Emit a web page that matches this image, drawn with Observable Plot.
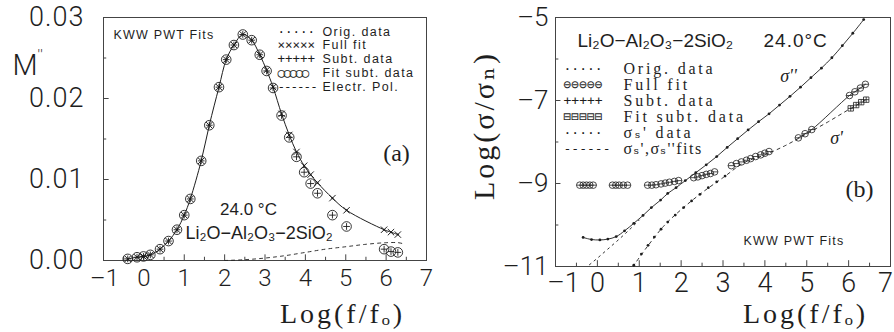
<!DOCTYPE html>
<html>
<head>
<meta charset="utf-8">
<script src="https://cdn.jsdelivr.net/npm/d3@7"></script>
<script src="https://cdn.jsdelivr.net/npm/@observablehq/plot@0.6"></script>
<style>
  body { margin: 0; background: #fff; }
  #wrap { position: relative; width: 894px; height: 332px; overflow: hidden; background: #fff; }
  #pa { position: absolute; left: 0; top: 0; }
  #pb { position: absolute; left: 450px; top: 0; }
</style>
</head>
<body>
<div id="wrap"><div id="pa"></div><div id="pb"></div></div>
<script>
// ---------- Panel (a): M'' spectrum, KWW PWT fits ----------
const aLogF = [-0.40, -0.17, -0.01, 0.16, 0.40, 0.61, 0.82, 1.00, 1.15, 1.42, 1.62, 1.86, 2.04, 2.23, 2.45, 2.67, 2.87, 3.04, 3.20, 3.41, 3.60, 3.78, 3.97, 4.13, 4.30, 4.67, 5.02, 5.95, 6.12, 6.29];
const aFull = [0.0002, 0.0004, 0.0005, 0.0007, 0.0014, 0.0024, 0.0038, 0.0056, 0.0076, 0.0123, 0.0167, 0.0214, 0.0248, 0.0266, 0.0279, 0.0272, 0.0254, 0.0235, 0.0214, 0.0181, 0.0155, 0.0134, 0.0117, 0.0106, 0.0096, 0.0077, 0.0062, 0.0038, 0.0035, 0.0032];
const aSub  = [0.0002, 0.0004, 0.0005, 0.0007, 0.0014, 0.0024, 0.0038, 0.0056, 0.0076, 0.0123, 0.0167, 0.0214, 0.0248, 0.0266, 0.0279, 0.0272, 0.0254, 0.0234, 0.0213, 0.0179, 0.0152, 0.0128, 0.0109, 0.0095, 0.0083, 0.0056, 0.0042, 0.0014, 0.0011, 0.0010];
const aPolLogF = [2.0, 2.5, 3.0, 3.5, 4.0, 4.5, 5.0, 5.5, 6.0, 6.3, 6.4];
const aPol     = [0.0000, 0.0001, 0.0003, 0.0006, 0.0010, 0.0014, 0.0017, 0.0020, 0.0022, 0.0022, 0.0021];
const aYTicks = [0, 0.01, 0.02, 0.03];
const aYMinor = [0.005, 0.015, 0.025];
const aLegendSymbols = ["·····", "×××××", "+++++", "○○○○○", "------"];
const aLegendLabels  = ["Orig. data", "Full fit", "Subt. data", "Fit subt. data", "Electr. Pol."];

// ---------- Panel (b): conductivity spectra ----------
const bSig2LogF = [-0.34, -0.14, 0.06, 0.25, 0.45, 0.65, 0.87, 1.09, 1.29, 1.51, 1.68, 1.88, 2.10, 2.35, 2.60, 2.85, 3.10, 3.35, 3.60, 3.85, 4.10, 4.35, 4.60, 4.85, 5.10, 5.35, 5.60, 5.85, 6.10, 6.36];
const bSig2     = [-10.30, -10.35, -10.36, -10.34, -10.28, -10.14, -9.96, -9.77, -9.58, -9.40, -9.24, -9.10, -8.93, -8.74, -8.55, -8.35, -8.13, -7.92, -7.71, -7.51, -7.32, -7.11, -6.90, -6.68, -6.45, -6.22, -5.97, -5.68, -5.38, -5.05];
const bSig2FitLogF = [-0.30, 0.00, 0.25, 0.50, 0.75, 1.00];
const bSig2Fit     = [-11.05, -10.80, -10.58, -10.36, -10.13, -9.88];
const bSig1LogF = [-0.42, -0.34, -0.26, -0.18, -0.10, 0.36, 0.44, 0.52, 0.62, 0.72, 1.20, 1.30, 1.40, 1.52, 1.62, 1.72, 1.84, 1.94, 2.30, 2.40, 2.50, 2.60, 2.70, 2.80, 3.20, 3.32, 3.44, 3.56, 3.66, 3.78, 3.90, 4.00, 4.10, 4.80, 4.96, 5.12, 6.02, 6.15, 6.28, 6.40];
const bSig1     = [-9.04, -9.04, -9.04, -9.04, -9.04, -9.04, -9.04, -9.04, -9.04, -9.04, -9.04, -9.04, -9.03, -9.01, -8.99, -8.97, -8.95, -8.93, -8.86, -8.84, -8.81, -8.78, -8.76, -8.72, -8.57, -8.52, -8.48, -8.44, -8.40, -8.35, -8.31, -8.27, -8.23, -7.90, -7.80, -7.70, -6.88, -6.79, -6.70, -6.61];
const bSubLogF = [0.87, 1.05, 1.21, 1.36, 1.52, 1.68, 1.86, 2.06, 2.25, 2.45, 2.65, 2.85, 3.05];
const bSub     = [-10.97, -10.70, -10.49, -10.29, -10.10, -9.93, -9.76, -9.58, -9.42, -9.26, -9.10, -8.96, -8.82];
const bSubFitLogF = [0.85, 1.20, 1.60, 2.00, 2.50, 3.00, 3.50, 4.00, 4.50, 5.00, 5.50, 6.00, 6.42];
const bSubFit     = [-11.00, -10.51, -10.01, -9.63, -9.22, -8.86, -8.50, -8.31, -8.08, -7.80, -7.52, -7.22, -6.98];
const bSubHiLogF = [6.05, 6.18, 6.30, 6.42];
const bSubHi     = [-7.19, -7.11, -7.04, -6.98];
const bYTicks = [-11, -9, -7, -5];
const bYMinor = [-10, -8, -6];
const bLegendSymbols = ["·····", "⊖⊖⊖⊖⊖", "+++++", "⊟⊟⊟⊟⊟", "·····", "------"];
const bLegendLabels  = ["Orig. data", "Full fit", "Subt. data", "Fit subt. data", "σₛ' data", "σₛ',σₛ''fits"];

// ---------- shared axis values ----------
const xTicks = [-1, 0, 1, 2, 3, 4, 5, 6, 7];
const xMinor = [-0.5, 0.5, 1.5, 2.5, 3.5, 4.5, 5.5, 6.5];

const ink = "#1e1e1e";
const thin = "Roboto, 'DejaVu Sans', sans-serif";
const sans = "'Liberation Sans', Arial, sans-serif";
const serif = "'Liberation Serif', 'DejaVu Serif', serif";
const mono = "'DejaVu Sans Mono', 'Liberation Mono', monospace";
// long dash for negative tick values
const fmtInt = d => (d < 0 ? "\u2013" + Math.abs(d) : String(d));

const zip = (xs, ys) => xs.map((x, i) => ({x, y: ys[i]}));

// Marker shapes: circle with a cross, circle with a bar, square with a cross
const circlePlus = {draw(ctx, size) {
  const r = Math.sqrt(size / Math.PI), k = r * 0.7;
  ctx.moveTo(r, 0); ctx.arc(0, 0, r, 0, 2 * Math.PI);
  ctx.moveTo(-k, 0); ctx.lineTo(k, 0); ctx.moveTo(0, -k); ctx.lineTo(0, k);
}};
const circleBar = {draw(ctx, size) {
  const r = Math.sqrt(size / Math.PI);
  ctx.moveTo(r, 0); ctx.arc(0, 0, r, 0, 2 * Math.PI);
  ctx.moveTo(-r, 0); ctx.lineTo(r, 0);
}};
const squareBar = {draw(ctx, size) {
  const r = Math.sqrt(size / Math.PI) * 0.9;
  ctx.rect(-r, -r, 2 * r, 2 * r);
  ctx.moveTo(-r, 0); ctx.lineTo(r, 0); ctx.moveTo(0, -r); ctx.lineTo(0, r);
}};

// Text placed relative to the top-left corner of the frame
function note(text, dx, dy, opts = {}) {
  return Plot.text([text], {frameAnchor: "top-left", text: d => d, dx, dy,
    textAnchor: "start", lineAnchor: "middle", fill: ink, fontFamily: sans, ...opts});
}

// Tick-label axis with a thin typeface
function xLabels(ticks, size, pad, dx = 0) {
  return Plot.axisX(ticks, {tickSize: 0, tickPadding: pad, tickFormat: fmtInt, fontSize: size,
    fontFamily: thin, fontWeight: 300, fill: ink, label: null, dx});
}

// Letter spacing applied after rendering
function spaceLetters(svg, map) {
  d3.select(svg).selectAll("text").each(function () {
    const s = map.get(this.textContent);
    if (s !== undefined) this.style.letterSpacing = s;
  });
}

// ---------- Panel (a) ----------
const A = aLogF.map((x, i) => ({x, full: aFull[i], sub: aSub[i]}));
const AP = zip(aPolLogF, aPol);

const plotA = Plot.plot({
  width: 440, height: 332,
  marginLeft: 103, marginRight: 14, marginTop: 17, marginBottom: 72,
  style: {overflow: "visible", background: "transparent", color: ink, fontFamily: thin},
  x: {domain: [-1, 7], label: null},
  y: {domain: [0, 0.03], label: null},
  marks: [
    Plot.frame({stroke: "#444", strokeWidth: 1}),
    Plot.ruleX(xTicks, {x: d => d, y1: 0, y2: 0.0007, stroke: "#444"}),
    Plot.ruleX(xMinor, {x: d => d, y1: 0, y2: 0.0004, stroke: "#444"}),
    Plot.ruleY(aYTicks, {y: d => d, x1: -1, x2: -0.86, stroke: "#444"}),
    Plot.ruleY(aYMinor, {y: d => d, x1: -1, x2: -0.92, stroke: "#444"}),
    xLabels(xTicks.filter(d => d > -1), 24, 8),
    xLabels([-1], 24, 8, 1),
    Plot.axisY(aYTicks, {tickSize: 0, tickPadding: 19, tickFormat: d3.format(".2f"), fontSize: 27, fontFamily: thin, fontWeight: 300, fill: ink, label: null}),

    // electrode polarization contribution
    Plot.line(AP, {x: "x", y: "y", curve: "catmull-rom", stroke: ink, strokeWidth: 0.9, strokeDasharray: "3,4"}),
    // full fit through the original data
    Plot.line(A, {x: "x", y: "full", curve: "catmull-rom", stroke: ink, strokeWidth: 1}),
    Plot.dot(A, {x: "x", y: "full", symbol: "times", r: 3, stroke: ink, strokeWidth: 1}),
    Plot.dot(A, {x: "x", y: "full", r: 1, fill: ink}),
    // subtracted data and its fit
    Plot.dot(A, {x: "x", y: "sub", symbol: circlePlus, r: 4.8, stroke: ink, fill: "none", strokeWidth: 0.9}),

    note("KWW PWT Fits", 10, 17, {fontSize: 12.5}),
    ...aLegendSymbols.map((s, i) => note(s, 174, 14 + i * 13.8, {fontFamily: mono, fontSize: 12.5})),
    ...aLegendLabels.map((s, i) => note(s, 219, 14 + i * 13.8, {fontSize: 12.5})),
    note("(a)", 293, 136, {fontFamily: serif, fontSize: 24, textAnchor: "middle"}),
    note("24.0 °C", 145, 192, {fontSize: 17, textAnchor: "middle"}),
    note("Li₂O−Al₂O₃−2SiO₂", 82, 216, {fontSize: 18}),
    note("Log(f/fₒ)", 239, 297, {fontFamily: serif, fontSize: 28, textAnchor: "middle"}),
    note("M", -91, 48, {fontFamily: thin, fontWeight: 300, fontSize: 29}),
    note("''", -66, 38, {fontFamily: thin, fontWeight: 300, fontSize: 15})
  ]
});
spaceLetters(plotA, new Map([
  ["KWW PWT Fits", "1.2px"], ["Orig. data", "1.4px"], ["Full fit", "1.4px"], ["Subt. data", "1.4px"],
  ["Fit subt. data", "1.4px"], ["Electr. Pol.", "1.4px"], ["Log(f/fₒ)", "3px"],
  ["○○○○○", "-1.5px"], ["×××××", "0px"], ["------", "-1px"], ["0.00", "1px"], ["0.01", "1px"],
  ["0.02", "1px"], ["0.03", "1px"], ["''", "1px"]
]));
document.getElementById("pa").appendChild(plotA);

// ---------- Panel (b) ----------
const B2 = zip(bSig2LogF, bSig2);
const B2f = zip(bSig2FitLogF, bSig2Fit);
const B1 = zip(bSig1LogF, bSig1);
const BS = zip(bSubLogF, bSub);
const BSf = zip(bSubFitLogF, bSubFit);
const BH = zip(bSubHiLogF, bSubHi);

const plotB = Plot.plot({
  width: 444, height: 332,
  marginLeft: 105, marginRight: 4, marginTop: 17, marginBottom: 66,
  style: {overflow: "visible", background: "transparent", color: ink, fontFamily: thin},
  x: {domain: [-1, 7], label: null},
  y: {domain: [-11, -5], label: null},
  marks: [
    Plot.frame({stroke: "#444", strokeWidth: 1}),
    Plot.ruleX(xTicks, {x: d => d, y1: -11, y2: -10.86, stroke: "#444"}),
    Plot.ruleX(xMinor, {x: d => d, y1: -11, y2: -10.92, stroke: "#444"}),
    Plot.ruleY(bYTicks, {y: d => d, x1: -1, x2: -0.87, stroke: "#444"}),
    Plot.ruleY(bYMinor, {y: d => d, x1: -1, x2: -0.92, stroke: "#444"}),
    xLabels(xTicks.filter(d => d > -1 && d < 7), 27, 6),
    xLabels([-1], 27, 6, 8),
    xLabels([7], 27, 6, -5),
    Plot.axisY(bYTicks, {tickSize: 0, tickPadding: 7, tickFormat: fmtInt, fontSize: 26, fontFamily: thin, fontWeight: 300, fill: ink, label: null}),

    // sigma'' : original data with full fit, low-frequency fit
    Plot.line(B2f, {x: "x", y: "y", stroke: ink, strokeWidth: 0.9, strokeDasharray: "2,4", clip: true}),
    Plot.line(B2, {x: "x", y: "y", curve: "catmull-rom", stroke: ink, strokeWidth: 0.9, clip: true}),
    Plot.dot(B2, {x: "x", y: "y", r: 1.4, fill: ink, clip: true}),

    // sigma_s' : subtracted data and fit
    Plot.line(BSf, {x: "x", y: "y", curve: "catmull-rom", stroke: ink, strokeWidth: 0.9, strokeDasharray: "3,4", clip: true}),
    Plot.dot(BS, {x: "x", y: "y", r: 1.4, fill: ink}),
    Plot.dot(BH, {x: "x", y: "y", symbol: squareBar, r: 3, stroke: ink, fill: "none", strokeWidth: 0.8}),

    // sigma' : full fit
    Plot.line(B1.filter(d => d.x >= 4.8), {x: "x", y: "y", curve: "catmull-rom", stroke: ink, strokeWidth: 0.9}),
    Plot.dot(B1, {x: "x", y: "y", symbol: circleBar, r: 3.3, stroke: ink, fill: "none", strokeWidth: 0.8}),

    note("Li₂O−Al₂O₃−2SiO₂", 22, 23, {fontSize: 19}),
    note("24.0°C", 208, 23, {fontSize: 19}),
    ...bLegendSymbols.map((s, i) => note(s, 8, 51 + i * 16, {fontFamily: mono, fontSize: 13})),
    ...bLegendLabels.map((s, i) => note(s, 68, 51 + i * 16, {fontFamily: serif, fontSize: 16})),
    note("KWW PWT Fits", 188, 223, {fontSize: 12.5}),
    note("(b)", 304, 172, {fontFamily: serif, fontSize: 24, textAnchor: "middle"}),
    note("σ''", 233, 59, {fontFamily: serif, fontStyle: "italic", fontSize: 18, textAnchor: "middle"}),
    note("σ'", 281, 121, {fontFamily: serif, fontStyle: "italic", fontSize: 18, textAnchor: "middle"}),
    note("Log(f/fₒ)", 250, 297, {fontFamily: serif, fontSize: 28, textAnchor: "middle"}),
    note("Log(σ/σₙ)", -71, 108, {fontFamily: serif, fontSize: 30, textAnchor: "middle", rotate: -90})
  ]
});
spaceLetters(plotB, new Map([
  ["KWW PWT Fits", "1.2px"], ["Orig. data", "2.8px"], ["Full fit", "2.8px"], ["Subt. data", "2.8px"],
  ["Fit subt. data", "2.8px"], ["σₛ' data", "2.8px"], ["σₛ',σₛ''fits", "1.5px"],
  ["Log(f/fₒ)", "3px"], ["Log(σ/σₙ)", "3px"], ["24.0°C", "1px"]
]));
document.getElementById("pb").appendChild(plotB);
</script>
</body>
</html>
